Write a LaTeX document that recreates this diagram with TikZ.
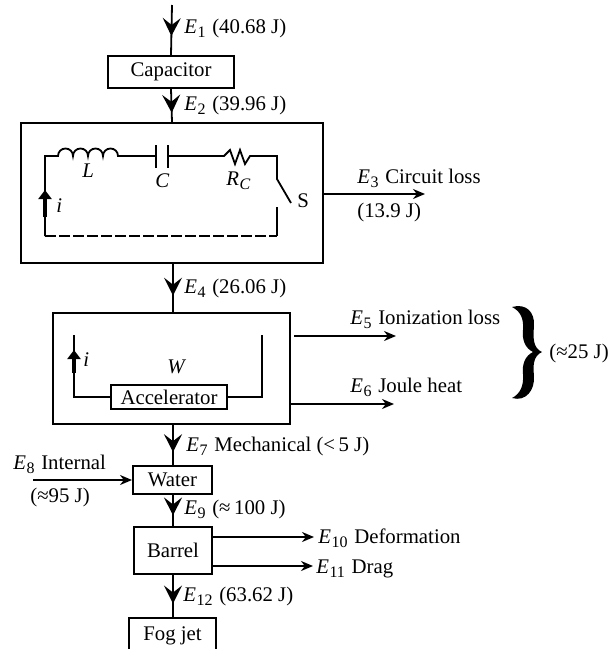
\documentclass[tikz,border=0pt]{standalone}
\usepackage{fontspec}
\setmainfont{Liberation Serif}
\usetikzlibrary{arrows.meta,decorations.markings}

\newcommand{\en}[2]{\textit{#1}\kern0.2pt\raisebox{-2pt}{\fontsize{8}{9}\selectfont #2}\kern0.8pt\relax}

\tikzset{
  block/.style={draw, line width=1pt, inner sep=0pt, font=\fontsize{10.4}{12}\selectfont},
  lab/.style={inner sep=0pt, anchor=base west, font=\fontsize{10.4}{12}\selectfont},
  flow/.style={line width=0.9pt, postaction={decorate},
    decoration={markings, mark=at position #1 with {\arrow[line width=0.9pt]{Stealth[length=9pt, width=9pt, inset=3.5pt]}}}},
  loss/.style={line width=1pt, -{Stealth[length=6pt, width=5pt]}},
  wire/.style={line width=0.9pt},
  curr/.style={line width=2pt, -{Stealth[length=4.5pt, width=6.5pt, inset=0pt]}}
}

\begin{document}
\begin{tikzpicture}[x=0.5pt, y=-0.5pt]
  \useasboundingbox (0,0) rectangle (609,649);

  % --- BLOCKS ---
  \node[block, minimum width=63pt, minimum height=16pt] (cap) at (171,72) {Capacitor};
  \node[block, minimum width=151pt, minimum height=70pt] (circ) at (172,193) {};
  \node[block, minimum width=118.5pt, minimum height=55.5pt] (accbox) at (171.5,368.5) {};
  \node[block, minimum width=58pt, minimum height=12pt] (acc) at (169,397) {Accelerator};
  \node[block, minimum width=39.5pt, minimum height=14pt] (water) at (172.5,480) {Water};
  \node[block, minimum width=39pt, minimum height=23.5pt] (barrel) at (173,550.5) {Barrel};
  \node[block, minimum width=43.5pt, minimum height=20pt] (fog) at (172.5,638) {};
  \node[lab, anchor=base] (fogtext) at (172.5,640) {Fog jet};

  % --- FREE ENDS ---
  \coordinate (top) at (172,5);
  \coordinate (e3end) at (425,194);
  \coordinate (e5end) at (396,336);
  \coordinate (e6end) at (394,404);
  \coordinate (e8start) at (33,480);
  \coordinate (e10end) at (314,537);
  \coordinate (e11end) at (313,566);

  % --- MAIN FLOW ---
  \draw[flow=0.62] (top) -- (cap.north);
  \draw[flow=0.72] (cap.south) -- (circ.north);
  \draw[flow=0.66] (circ.south -| 173,0) -- (accbox.north -| 173,0);
  \draw[flow=0.68] (accbox.south -| 173,0) -- (water.north -| 173,0);
  \draw[flow=0.66] (water.south -| 173,0) -- (barrel.north -| 173,0);
  \draw[flow=0.68] (barrel.south) -- (fog.north -| 173,0);

  % --- LOSSES ---
  \draw[loss] (circ.east |- e3end) -- (e3end);
  \draw[loss] (accbox.east |- e5end) ++(3,0) -- (e5end);
  \draw[loss] (accbox.east |- e6end) -- (e6end);
  \draw[loss] (e8start) -- (water.west |- e8start);
  \draw[loss] (barrel.east |- e10end) -- (e10end);
  \draw[loss] (barrel.east |- e11end) -- (e11end);

  % --- CIRCUIT ---
  \coordinate (cl) at (45,236);
  \coordinate (cr) at (277,236);
  \draw[wire] (cl) -- (45,156) -- (58,156)
    arc[start angle=180, end angle=360, radius=7.5]
    arc[start angle=180, end angle=360, radius=7.5]
    arc[start angle=180, end angle=360, radius=7.5]
    arc[start angle=180, end angle=360, radius=7.5] -- (156,156);
  \draw[wire] (156,145) -- (156,168);
  \draw[wire] (168,145) -- (168,168);
  \draw[wire] (168,156) -- (224,156) -- (230,150) -- (235,164) -- (240,150) -- (245,164) -- (250,156) -- (277,156) -- (277,179) -- (291,203);
  \draw[wire] (277,207) -- (cr);
  \draw[wire, dash pattern=on 5.5pt off 1.5pt] (cl) -- (cr);
  \draw[curr] (45,217) -- (45,190);

  % --- ACCELERATOR CIRCUIT ---
  \draw[wire] (acc.west) -- (74,397) -- (74,335);
  \draw[wire] (acc.east) -- (262,397) -- (262,335);
  \draw[curr] (74,373) -- (74,350);

  % --- BRACE ---
  \fill (512,307) .. controls (526,303) and (535,312) .. (534,326)
    .. controls (533,338) and (533,348) .. (542,352)
    .. controls (533,356) and (533,366) .. (534,376)
    .. controls (535,390) and (526,402) .. (512,398)
    .. controls (520,394) and (524,386) .. (523,374)
    .. controls (522,364) and (525,356) .. (533,352)
    .. controls (525,348) and (522,340) .. (523,330)
    .. controls (524,318) and (520,311) .. (512,307) -- cycle;

  % --- LABELS ---
  \node[lab] (e1) at (184,33) {\en{E}{1} (40.68 J)};
  \node[lab] (e2) at (184,110) {\en{E}{2} (39.96 J)};
  \node[lab] (e3) at (357,183) {\en{E}{3} Circuit loss};
  \node[lab] (e3b) at (357,217) {(13.9 J)};
  \node[lab] (e4) at (184,293) {\en{E}{4} (26.06 J)};
  \node[lab] (e5) at (350,324) {\en{E}{5} Ionization loss};
  \node[lab] (e6) at (350,392) {\en{E}{6} Joule heat};
  \node[lab] (e7) at (186,451) {\en{E}{7} Mechanical (<\,5 J)};
  \node[lab] (e8) at (13,469) {\en{E}{8} Internal};
  \node[lab] (e8b) at (30,502) {(≈95 J)};
  \node[lab] (e9) at (184,514) {\en{E}{9} (≈\,100 J)};
  \node[lab] (e10) at (318,543) {\en{E}{10} Deformation};
  \node[lab] (e11) at (316,573) {\en{E}{11} Drag};
  \node[lab] (e12) at (183,601) {\en{E}{12} (63.62 J)};
  \node[lab] (e25) at (549,358) {(≈25 J)};
  \node[lab] (lL) at (82,177) {\textit{L}};
  \node[lab] (lC) at (155,187) {\textit{C}};
  \node[lab] (lR) at (226,185) {\en{R}{\textit{C}}};
  \node[lab] (lS) at (297,207) {S};
  \node[lab] (li) at (56,212) {\textit{i}};
  \node[lab] (li2) at (83,366) {\textit{i}};
  \node[lab] (lW) at (167,373) {\textit{W}};
\end{tikzpicture}
\end{document}
